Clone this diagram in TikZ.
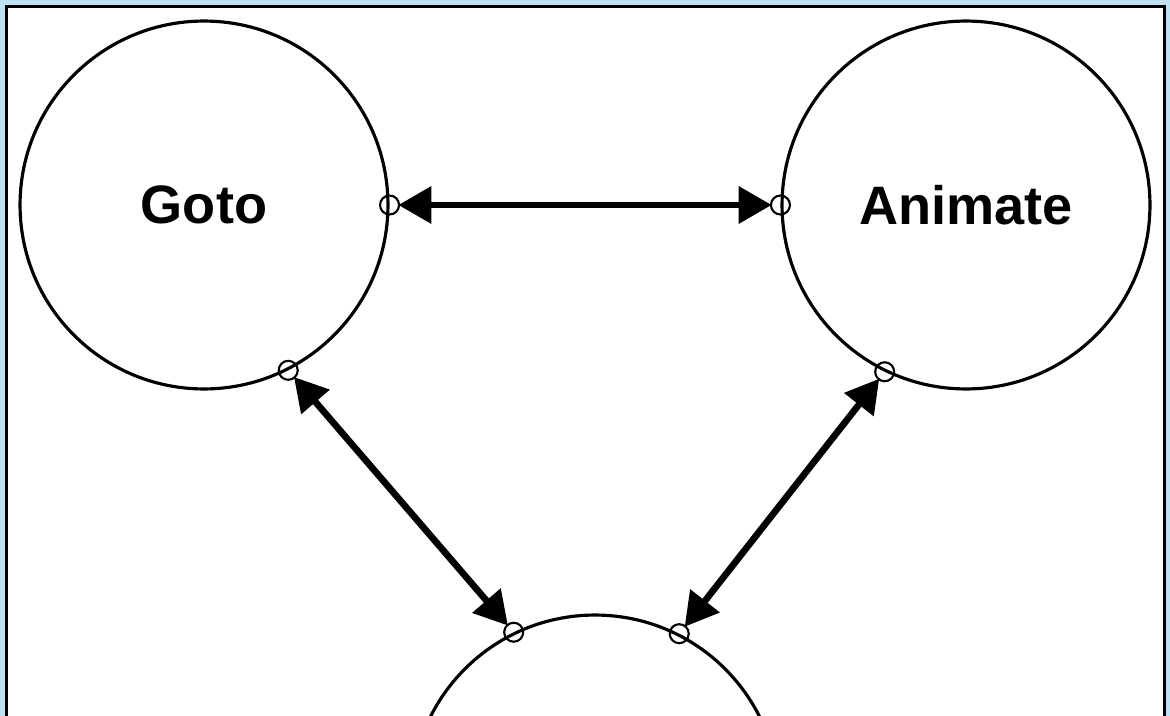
\documentclass[tikz,border=0pt]{standalone}
\usepackage{fontspec}
\setmainfont{Liberation Sans}
\usetikzlibrary{arrows.meta}
\definecolor{panelblue}{RGB}{190,226,244}

\tikzset{
    state/.style={circle, draw, line width=1.8pt, minimum size=7.36cm, inner sep=0pt, font=\bfseries\fontsize{30.8}{36}\selectfont},
    port/.style={circle, draw, line width=1.2pt, minimum size=0.38cm, inner sep=0pt},
    link/.style={line width=3.8pt, shorten <=-1pt, shorten >=-1pt, {Triangle[length=0.66cm, width=0.72cm]}-{Triangle[length=0.66cm, width=0.72cm]}}
}

\begin{document}
\begin{tikzpicture}[x=0.02cm, y=-0.02cm]
    % Canvas
    \useasboundingbox (0,0) rectangle (1170,716);
    \clip (0,0) rectangle (1170,716);
    \fill[panelblue] (0,0) rectangle (1170,716);
    \draw[fill=white, line width=1.8pt] (6.5,6.5) rectangle (1164.5,760);

    % States
    \node[state] (goto) at (204,205) {Goto};
    \node[state] (animate) at (966,205) {Animate};
    \node[state] (lower) at (595,799) {};

    % Ports on the circles
    \node[port] (gotoR) at (goto.0) {};
    \node[port] (gotoB) at (goto.-63.4) {};
    \node[port] (animL) at (animate.180) {};
    \node[port] (animB) at (animate.-116.8) {};
    \node[port] (lowL) at (lower.116.8) {};
    \node[port] (lowR) at (lower.63.2) {};

    % Links
    \draw[link] (gotoR) -- (animL);
    \draw[link] (gotoB) -- (lowL);
    \draw[link] (animB) -- (lowR);
\end{tikzpicture}
\end{document}
